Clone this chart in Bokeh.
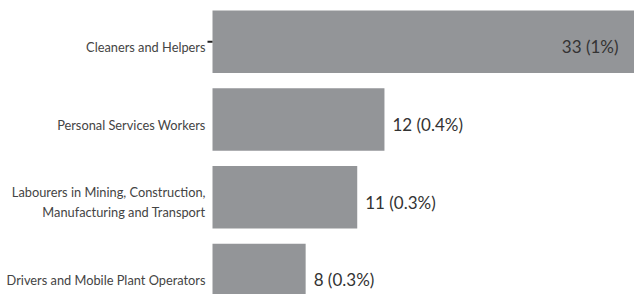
from bokeh.plotting import figure
from bokeh.models import ColumnDataSource, Range1d
from bokeh.core.properties import value
from bokeh.embed import file_html
from bokeh.resources import INLINE

categories = ["Cleaners and Helpers", "Personal Services Workers",
              "Labourers in Mining, Construction,\nManufacturing and Transport",
              "Drivers and Mobile Plant Operators"]
counts = [33, 12, 11, 8]
percents = ["1%", "0.4%", "0.3%", "0.3%"]
bar_lengths = [33, 12, 10.1, 6.5]

W, H = 634, 294
PX_PER_UNIT = 14.33
X_START = -212 / PX_PER_UNIT
X_END = X_START + W / PX_PER_UNIT
ypos = list(range(len(categories) - 1, -1, -1))
labels = [f"{c} ({p})" for c, p in zip(counts, percents)]

inside = [b > X_END for b in bar_lengths]
src_out = ColumnDataSource(dict(
    x=[b for b, i in zip(bar_lengths, inside) if not i],
    y=[y for y, i in zip(ypos, inside) if not i],
    t=[t for t, i in zip(labels, inside) if not i]))
src_in = ColumnDataSource(dict(
    x=[X_END for b, i in zip(bar_lengths, inside) if i],
    y=[y for y, i in zip(ypos, inside) if i],
    t=[t for t, i in zip(labels, inside) if i]))
src_cat = ColumnDataSource(dict(x=[0] * len(categories), y=ypos, t=categories))

p = figure(width=W, height=H, output_backend="svg", toolbar_location=None,
           x_range=Range1d(X_START, X_END), y_range=Range1d(-0.251, 3.531),
           min_border_left=0, min_border_right=0, min_border_top=0, min_border_bottom=0)
p.outline_line_color = None
p.grid.visible = False
p.xaxis.visible = False
p.yaxis.visible = False

p.hbar(y=ypos, left=0, right=bar_lengths, height=0.804, color="#939598", line_color=None)
p.segment(x0=[-5 / PX_PER_UNIT], x1=[0], y0=[ypos[0]], y1=[ypos[0]],
          line_color="#222222", line_width=2)

p.text(x="x", y="y", text="t", source=src_cat, x_offset=-7, y_offset=5, text_align="right",
       text_baseline="middle", text_font=value("Lato"), text_font_size="12.8px",
       text_color="#444444", text_line_height=1.25)
p.text(x="x", y="y", text="t", source=src_out, x_offset=8, y_offset=5, text_align="left",
       text_baseline="middle", text_font=value("Lato"), text_font_size="17px", text_color="#333333")
p.text(x="x", y="y", text="t", source=src_in, x_offset=-16, y_offset=5, text_align="right",
       text_baseline="middle", text_font=value("Lato"), text_font_size="17px", text_color="#333333")

open("out.html", "w").write(file_html(p, INLINE))
